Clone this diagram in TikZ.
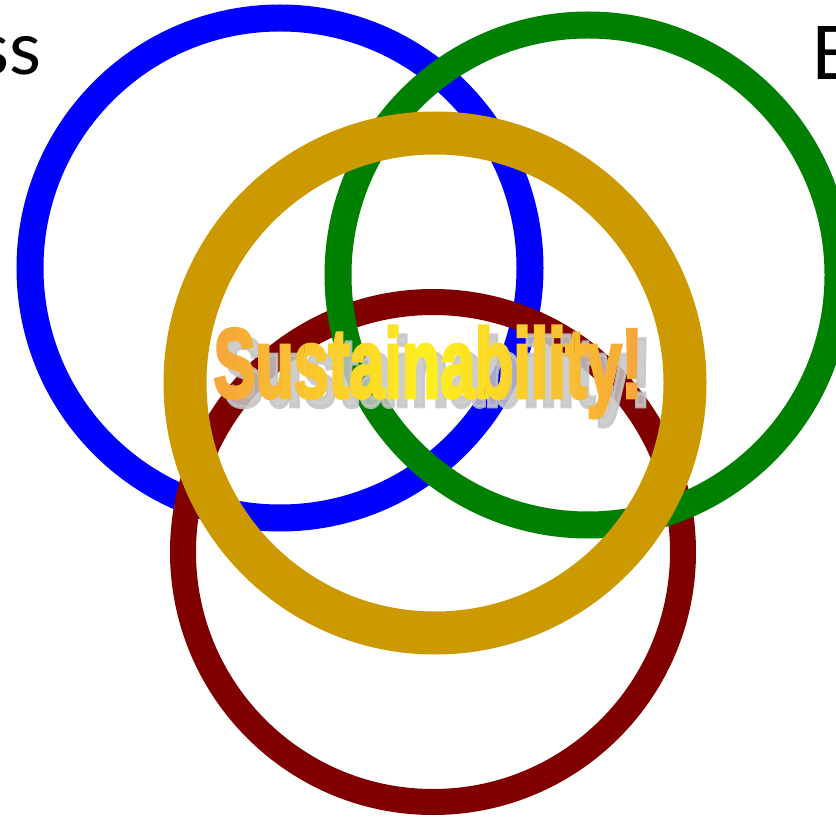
\documentclass[tikz,border=0pt]{standalone}
\usepackage{fontspec}
\newfontfamily\cornerfont{Lato}
\newfontfamily\bannerfont{Liberation Sans}[BoldFeatures={FakeBold=4}]
\definecolor{ringblue}{RGB}{0,0,255}
\definecolor{ringgreen}{RGB}{0,128,0}
\definecolor{ringgold}{RGB}{204,153,0}
\definecolor{ringred}{RGB}{128,0,0}
\definecolor{bannerorange}{RGB}{245,160,60}
\definecolor{banneryellow}{RGB}{255,240,30}
\newcommand{\bannertext}{\fontsize{98}{100}\selectfont\bannerfont\bfseries Sustainability!}

\begin{document}
\begin{tikzpicture}[x=1pt, y=-1pt,
    ring/.style={circle, draw, minimum size=500pt, inner sep=0pt},
    cornertext/.style={font=\cornerfont\fontsize{74}{80}\selectfont, inner sep=0pt},
    banner/.style={inner sep=0pt, xscale=.64, transform shape}]
  \useasboundingbox (0,0) rectangle (836,818);
  \clip (0,0) rectangle (836,818);
  % Rings, back to front
  \node[ring, draw=ringblue, line width=27pt]  (blue)  at (280,268) {};
  \node[ring, draw=ringred, line width=26pt]   (red)   at (433,552) {};
  \node[ring, draw=ringgreen, line width=27pt] (green) at (588,275) {};
  \node[ring, draw=ringgold, line width=43pt]  (gold)  at (435,383) {};
  % Cut-off corner words
  \node[cornertext, anchor=base east] (ss) at (42,75) {ss};
  \node[cornertext, anchor=base west] (e)  at (811,80) {E};
  % Banner: shadow, then letters in strips from orange to yellow to orange
  \node[banner, text=gray!45, opacity=.85] (shadow) at (437,381) {\bannertext};
  \foreach \i in {0,...,39} {
    \pgfmathsetmacro{\mix}{100*(1-abs(2*(\i+0.5)/40-1))}
    \begin{scope}
      \clip (203+\i*11.25,300) rectangle (203+\i*11.25+11.5,440);
      \node[banner, text=banneryellow!\mix!bannerorange] (letters-\i) at (428,372) {\bannertext};
    \end{scope}
  }
\end{tikzpicture}
\end{document}
